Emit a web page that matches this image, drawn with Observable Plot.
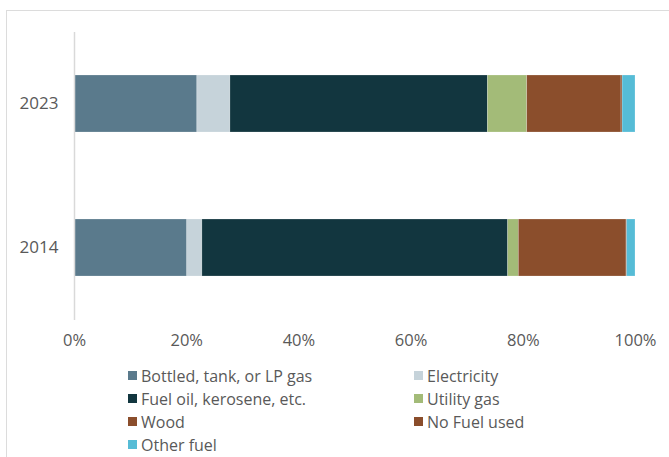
<!DOCTYPE html>
<html>
<head>
<meta charset="utf-8">
<script src="https://cdn.jsdelivr.net/npm/d3@7"></script>
<script src="https://cdn.jsdelivr.net/npm/@observablehq/plot@0.6"></script>
<style>
  body { margin: 0; background: #fff; }
  #wrap { position: relative; width: 669px; height: 457px; overflow: hidden; font-family: "Open Sans", sans-serif; color: #595959; }
  #frame { position: absolute; left: 6px; top: 10px; width: 700px; height: 500px; border-left: 1.5px solid #dcdcdc; border-top: 1.5px solid #dcdcdc; }
  #chart { position: absolute; left: 0; top: 0; }
  #legend { position: absolute; left: 128px; top: 364px; display: grid; grid-template-columns: 286px 200px; grid-auto-rows: 23px; font-size: 16px; }
  .item { display: flex; align-items: center; height: 23px; white-space: nowrap; }
  .sw { width: 9px; height: 9px; margin-right: 4px; flex: none; }
</style>
</head>
<body>
<div id="wrap">
  <div id="frame"></div>
  <div id="chart"></div>
  <div id="legend"></div>
</div>
<script>
const years = ["2023", "2014"];
const fuels = ["Bottled, tank, or LP gas", "Electricity", "Fuel oil, kerosene, etc.", "Utility gas", "Wood", "No Fuel used", "Other fuel"];
const values2023 = [21.9, 5.9, 45.9, 7.0, 16.8, 0.2, 2.3];
const values2014 = [20.1, 2.7, 54.5, 1.9, 19.2, 0.1, 1.5];
const colors = ["#5a7a8c", "#c6d3da", "#12363f", "#a3bb78", "#8b4e2c", "#8a4d2b", "#56bcd6"];
const xTicks = [0, 20, 40, 60, 80, 100];

const data = [];
fuels.forEach((f, i) => data.push({year: "2023", fuel: f, value: values2023[i]}));
fuels.forEach((f, i) => data.push({year: "2014", fuel: f, value: values2014[i]}));

const chart = Plot.plot({
  width: 669,
  height: 360,
  marginLeft: 74,
  marginRight: 34,
  marginTop: 32,
  marginBottom: 40,
  style: {fontFamily: "'Open Sans', sans-serif", fontSize: "16px", color: "#595959", background: "transparent"},
  x: {domain: [0, 100], ticks: xTicks, tickFormat: d => d + "%", label: null},
  y: {domain: years, paddingInner: 0.604, paddingOuter: 0.302, label: null},
  color: {domain: fuels, range: colors},
  marks: [
    Plot.barX(data, {x: "value", y: "year", fill: "fuel", stroke: "white", strokeWidth: 0.6, strokeOpacity: 0.35}),
    Plot.ruleX([0], {stroke: "#d9d9d9", strokeWidth: 1.5}),
    Plot.axisX({ticks: xTicks, tickFormat: d => d + "%", tickSize: 0, tickPadding: 14, fontSize: 16.5, label: null}),
    Plot.axisY({tickSize: 0, tickPadding: 16, fontSize: 17, label: null})
  ]
});
document.getElementById("chart").appendChild(chart);

const legend = document.getElementById("legend");
fuels.forEach((f, i) => {
  const item = document.createElement("div");
  item.className = "item";
  const sw = document.createElement("span");
  sw.className = "sw";
  sw.style.background = colors[i];
  const t = document.createElement("span");
  t.textContent = f;
  item.appendChild(sw);
  item.appendChild(t);
  legend.appendChild(item);
});
</script>
</body>
</html>
